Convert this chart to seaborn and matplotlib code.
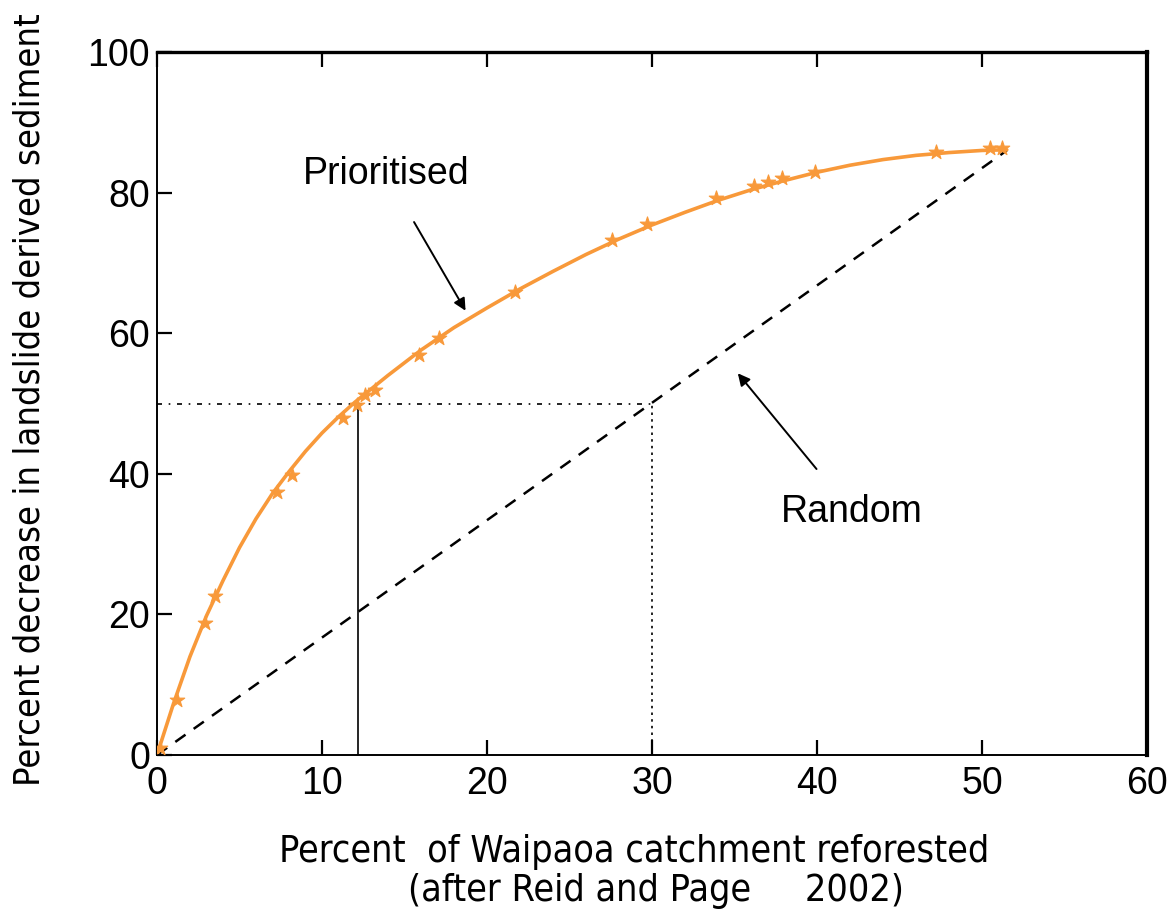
import numpy as np
import pandas as pd
import matplotlib
matplotlib.use('Agg')
import matplotlib.pyplot as plt
import seaborn as sns

sns.set_theme(style='ticks')
plt.rcParams['font.family'] = ['Liberation Sans', 'DejaVu Sans']
plt.rcParams['text.color'] = 'black'
plt.rcParams['axes.labelcolor'] = 'black'

# observed points (prioritised reforestation)
pts_x = [0.2, 1.2, 2.9, 3.5, 7.3, 8.2, 11.3, 12.1, 12.6, 13.2, 15.9, 17.1,
         21.7, 27.6, 29.7, 33.9, 36.2, 37.0, 37.9, 39.9, 47.2, 50.5, 51.2]
pts_y = [1.0, 7.8, 18.8, 22.6, 37.4, 39.8, 47.9, 49.8, 51.2, 51.9, 56.9, 59.3,
         65.9, 73.3, 75.5, 79.2, 80.9, 81.5, 82.1, 82.9, 85.8, 86.3, 86.3]

# fitted curve
fit_x = [0, 1, 2, 3, 4, 5, 6, 7, 8, 9, 10, 11, 12, 14, 16, 18, 20, 22, 24,
         26, 28, 30, 32, 34, 36, 38, 40, 42, 44, 46, 48, 50, 51.5]
fit_y = [0, 7.3, 14, 19.8, 24.8, 29.5, 33.6, 37.2, 40.3, 43.2, 45.8, 48.1,
         50.2, 54, 57.6, 60.8, 63.6, 66.3, 68.8, 71.2, 73.4, 75.4, 77.2, 78.9,
         80.4, 81.7, 82.9, 83.9, 84.7, 85.3, 85.7, 86.0, 86.1]

# random reforestation line
rand_x = [0, 51.5]
rand_y = [0, 86]

pts = pd.DataFrame({'x': pts_x, 'y': pts_y})
fit = pd.DataFrame({'x': fit_x, 'y': fit_y})
rnd = pd.DataFrame({'x': rand_x, 'y': rand_y})

orange = '#F8993A'
narrow = dict(family='DejaVu Sans', stretch='condensed')

fig = plt.figure(figsize=(11.75, 9.13), dpi=100)
ax = fig.add_axes([0.1336, 0.1731, 0.8426, 0.7699])

sns.lineplot(data=rnd, x='x', y='y', ax=ax, color='black', lw=1.8,
             dashes=False, linestyle=(0, (5, 4)))
ax.plot([0, 30], [50, 50], color='black', lw=1.2, linestyle=(0, (3, 4, 1, 4)))
ax.plot([30, 30], [0, 50], color='black', lw=1.2, linestyle=(0, (1.5, 2.5)))
ax.plot([12.2, 12.2], [0, 50], color='black', lw=1.2)

sns.lineplot(data=fit, x='x', y='y', ax=ax, color=orange, lw=2.6)
sns.scatterplot(data=pts, x='x', y='y', ax=ax, color=orange, marker='*',
                s=120, edgecolor=orange, linewidth=0.8, zorder=5)

ax.annotate('Prioritised', xy=(18.7, 63.2), xytext=(13.9, 82.6),
            ha='center', va='center', fontsize=27,
            arrowprops=dict(arrowstyle='-|>', color='black', lw=1.4,
                            mutation_scale=18, shrinkA=22, shrinkB=0))
ax.annotate('Random', xy=(35.2, 54.3), xytext=(42.1, 34.6),
            ha='center', va='center', fontsize=27,
            arrowprops=dict(arrowstyle='-|>', color='black', lw=1.4,
                            mutation_scale=18, shrinkA=20, shrinkB=0))

ax.set_xlim(0, 60)
ax.set_ylim(0, 100)
ax.set_xticks(range(0, 61, 10))
ax.set_yticks(range(0, 101, 20))
ax.tick_params(axis='both', direction='in', length=11, width=1.6,
               labelsize=27, colors='black')
ax.tick_params(axis='x', top=True, pad=8)
ax.tick_params(axis='y', right=False, pad=5)

ax.spines['left'].set_linewidth(1.4)
ax.spines['bottom'].set_linewidth(1.4)
ax.spines['top'].set_linewidth(2.4)
ax.spines['right'].set_linewidth(3.0)
for s in ax.spines.values():
    s.set_visible(True)
    s.set_color('black')

ax.set_xlabel('Percent  of Waipaoa catchment reforested\n    (after Reid and Page     2002)',
              fontsize=27, linespacing=1.1, **narrow)
ax.xaxis.set_label_coords(0.482, -0.113)
ax.set_ylabel('Percent decrease in landslide derived sediment',
              fontsize=26, **narrow)
ax.yaxis.set_label_coords(-0.112, 0.505)

fig.savefig('out.png', dpi=100)
